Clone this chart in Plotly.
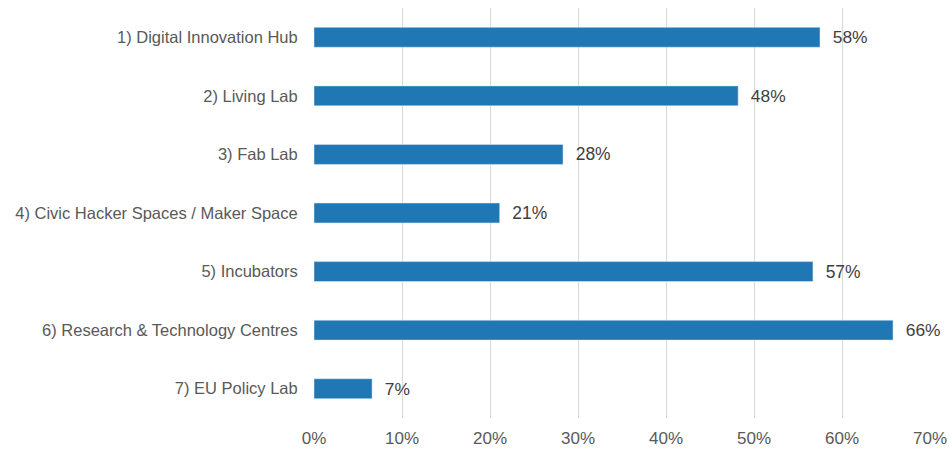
import plotly.graph_objects as go

categories = [
    "1) Digital Innovation Hub",
    "2) Living Lab",
    "3) Fab Lab",
    "4) Civic Hacker Spaces / Maker Space",
    "5) Incubators",
    "6) Research & Technology Centres",
    "7) EU Policy Lab",
]
values = [57.5, 48.2, 28.3, 21.1, 56.7, 65.8, 6.6]
labels = ["58%", "48%", "28%", "21%", "57%", "66%", "7%"]
tick_vals = [0, 10, 20, 30, 40, 50, 60, 70]
tick_text = ["0%", "10%", "20%", "30%", "40%", "50%", "60%", "70%"]

FONT = "Liberation Sans, Arial, sans-serif"

fig = go.Figure(go.Bar(
    x=values, y=categories, orientation="h",
    marker=dict(color="#1f77b4"),
    width=0.34,
    text=labels, texttemplate="  %{text}", textposition="outside",
    textfont=dict(size=17.5, color="#404040", family=FONT),
    cliponaxis=False,
))

fig.update_layout(
    width=949, height=455,
    margin=dict(l=314, r=19, t=8, b=37, autoexpand=False),
    plot_bgcolor="white", paper_bgcolor="white",
    font=dict(family=FONT, color="#595959"),
    showlegend=False,
)
fig.update_xaxes(range=[0, 70], tickvals=tick_vals, ticktext=tick_text,
                 showgrid=True, gridcolor="#d9d9d9", gridwidth=1.3, zeroline=False,
                 tickfont=dict(size=17, color="#595959"), ticks="outside", ticklen=5,
                 tickcolor="rgba(0,0,0,0)", automargin=False)
fig.update_yaxes(autorange="reversed", categoryorder="array", categoryarray=categories,
                 tickfont=dict(size=16.5, color="#595959"), ticks="outside", ticklen=12,
                 tickcolor="rgba(0,0,0,0)", showgrid=False, showline=False, automargin=False)

# remove the default 8px page margin so the full figure fits the window
fig.write_html(
    "out.html",
    config={"displayModeBar": False},
    post_script="document.body.style.margin='0';document.body.style.overflow='hidden';",
)
